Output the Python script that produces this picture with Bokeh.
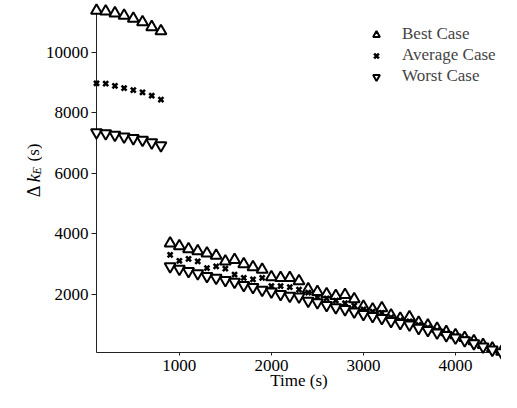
from bokeh.plotting import figure
from bokeh.layouts import row
from bokeh.models import Range1d, FixedTicker
from bokeh.core.properties import value
from bokeh.embed import file_html
from bokeh.resources import INLINE

# ---- data ----
time_1 = [100, 200, 300, 400, 500, 600, 700, 800]
best_1 = [11390, 11365, 11300, 11225, 11120, 11010, 10845, 10705]
avg_1 = [8980, 8970, 8895, 8820, 8755, 8680, 8570, 8440]
worst_1 = [7355, 7325, 7270, 7215, 7160, 7105, 7020, 6925]

time_2 = [900, 1000, 1100, 1200, 1300, 1400, 1500, 1600, 1700, 1800,
          1900, 2000, 2100, 2200, 2300, 2400, 2500, 2600, 2700, 2800,
          2900, 3000, 3100, 3200, 3300, 3400, 3500, 3600, 3700, 3800,
          3900, 4000, 4100, 4200, 4300, 4400, 4500]
best_2 = [3680, 3595, 3495, 3430, 3355, 3280, 3085, 3140, 2995, 2900,
          2815, 2565, 2540, 2540, 2435, 2165, 2075, 2000, 1945, 1975,
          1840, 1590, 1500, 1540, 1300, 1190, 1240, 1060, 970, 860,
          750, 645, 555, 450, 320, 210, 100]
avg_2 = [3300, 3105, 3170, 3085, 2865, 2920, 2845, 2650, 2540, 2490,
         2540, 2270, 2270, 2235, 2150, 2050, 1900, 1860, 1790, 1700,
         1620, 1500, 1420, 1380, 1230, 1130, 1100, 980, 890, 800,
         700, 610, 520, 420, 300, 200, 90]
worst_2 = [2920, 2835, 2760, 2685, 2595, 2540, 2465, 2410, 2300, 2235,
           2140, 2085, 2000, 1945, 1920, 1780, 1725, 1640, 1565, 1500,
           1420, 1340, 1270, 1210, 1110, 1040, 990, 880, 810, 730,
           640, 560, 470, 370, 260, 160, 70]

x_ticks = [1000, 2000, 3000, 4000]
y_ticks = [2000, 4000, 6000, 8000, 10000]
series_names = ["Best Case", "Average Case", "Worst Case"]
x_label = "Time (s)"

FONT = "Liberation Serif"
H = 392
LABEL_W = 42

all_x = time_1 + time_2
all_y = best_1 + avg_1 + worst_1 + best_2 + avg_2 + worst_2

p = figure(width=501 - LABEL_W, height=H, output_backend="svg", toolbar_location=None,
           x_range=Range1d(min(all_x), max(all_x)),
           y_range=Range1d(min(all_y), max(all_y)),
           min_border_left=96 - LABEL_W, min_border_right=0, min_border_top=10,
           min_border_bottom=38)
p.outline_line_color = None
p.grid.visible = False
p.background_fill_color = "white"
p.border_fill_color = "white"

series = [
    (series_names[0], "triangle", best_1 + best_2, 11, 2),
    (series_names[1], "x", avg_1 + avg_2, 7, 2.6),
    (series_names[2], "inverted_triangle", worst_1 + worst_2, 11, 2),
]
for name, marker, ys, size, lw in series:
    r = p.scatter(x=all_x, y=ys, marker=marker, size=size,
                  fill_color="white", line_color="black", line_width=lw,
                  legend_label=name)
    r.level = "overlay"

# axes
for ax in (p.xaxis[0], p.yaxis[0]):
    ax.axis_line_color = "#222222"
    ax.axis_line_width = 1
    ax.major_tick_line_color = "#222222"
    ax.major_tick_in = 0
    ax.minor_tick_line_color = None
    ax.major_label_text_font = FONT
    ax.major_label_text_font_size = "17px"
    ax.major_label_text_color = "black"

p.xaxis.ticker = FixedTicker(ticks=x_ticks)
p.xaxis.major_tick_out = 3
p.xaxis.major_label_standoff = 4
p.xaxis.axis_label = x_label
p.xaxis.axis_label_text_font = FONT
p.xaxis.axis_label_text_font_size = "17px"
p.xaxis.axis_label_text_font_style = "normal"
p.xaxis.axis_label_text_color = "black"
p.xaxis.axis_label_standoff = -3

p.yaxis.ticker = FixedTicker(ticks=y_ticks)
p.yaxis.major_tick_out = 5
p.yaxis.major_label_standoff = 3

# legend
lg = p.legend[0]
lg.location = (270, 266)
lg.border_line_color = None
lg.background_fill_alpha = 0
lg.label_text_font = FONT
lg.label_text_font_size = "17px"
lg.glyph_width = 20
lg.glyph_height = 17
lg.label_height = 17
lg.label_standoff = 16
lg.spacing = 1
lg.padding = 0
lg.margin = 0

# ---- y-axis label  Δk_E (s): a narrow pixel-space panel on the left ----
lab = figure(width=LABEL_W, height=H, output_backend="svg", toolbar_location=None,
             x_range=Range1d(0, LABEL_W), y_range=Range1d(0, H),
             min_border=0, min_border_left=0, min_border_right=0,
             min_border_top=0, min_border_bottom=0)
lab.axis.visible = False
lab.grid.visible = False
lab.outline_line_color = None
lab.background_fill_color = "white"
lab.border_fill_color = "white"

pieces = [  # (text, baseline x, start y (from bottom), size, style)
    ("Δ", 33, 178, "18px", "normal"),
    ("k", 33, 195, "18px", "italic"),
    ("E", 36, 204, "12px", "italic"),
    ("(s)", 33, 219, "17px", "normal"),
]
for txt, tx, ty, fs, st in pieces:
    lab.text(x=[tx], y=[ty], text=[txt], angle=1.5708,
             text_font=value(FONT), text_font_size=value(fs),
             text_font_style=st, text_color="black",
             text_baseline="alphabetic", text_align="left")

layout = row(lab, p, spacing=0)
open("out.html", "w").write(file_html(layout, INLINE))
